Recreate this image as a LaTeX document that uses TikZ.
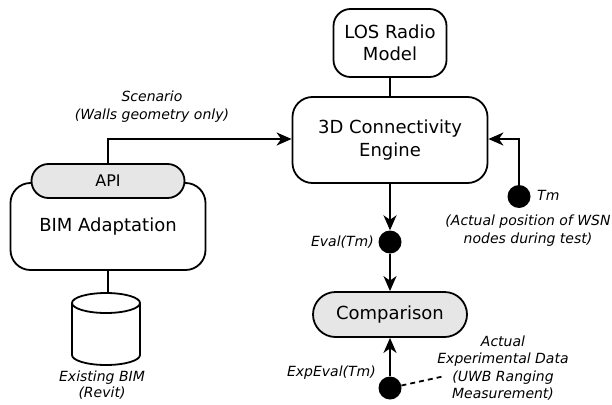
\documentclass[tikz,border=0pt]{standalone}
\usepackage{fontspec}
\setmainfont{DejaVu Sans}
\usetikzlibrary{arrows.meta}
\definecolor{boxgray}{HTML}{E6E6E6}
\begin{document}
\begin{tikzpicture}[x=1pt,y=-1pt,
  box/.style={draw,line width=1.8pt,align=center,font=\fontsize{18}{22.5}\selectfont,inner sep=0pt},
  dot/.style={circle,fill=black,minimum size=23pt,inner sep=0pt},
  lbl/.style={font=\fontsize{14}{18}\itshape\selectfont,align=center,inner sep=0pt},
  arr/.style={line width=1.8pt,-{Stealth[length=15pt,width=13pt,inset=4.5pt]}},
  ln/.style={line width=1.8pt}]
\useasboundingbox (0,0) rectangle (612,404);
\node[box,rounded corners=17pt,minimum width=113pt,minimum height=68pt] (los) at (390,43) {LOS Radio\\Model};
\node[box,rounded corners=20pt,minimum width=195pt,minimum height=86pt] (engine) at (390,140) {3D Connectivity\\Engine};
\node[box,rounded corners=20pt,minimum width=195pt,minimum height=87pt] (bim) at (108,226.5) {\raisebox{-4pt}{BIM Adaptation}};
\node[box,fill=boxgray,rounded corners=17pt,minimum width=153pt,minimum height=34pt,font=\fontsize{16}{18}\selectfont] (api) at (108,181) {API};
\node[box,fill=boxgray,rounded corners=22.5pt,minimum width=154pt,minimum height=45pt] (cmp) at (390,314.5) {Comparison};
% cylinder (database)
\coordinate (cyltop) at (106,293);
\draw[ln,fill=white] (72,303) -- (72,355) arc[start angle=180,end angle=0,x radius=34,y radius=10] -- (140,303);
\draw[ln] (106,303) ellipse [x radius=34, y radius=10];
\node[dot] (tm) at (519,196.5) {};
\node[dot] (eval) at (390,242) {};
\node[dot] (exp) at (390,388) {};
\coordinate (dend) at (445,376);
% labels
\node[lbl] (scen) at (152,106.5) {Scenario\\(Walls geometry only)};
\node[lbl,anchor=west] (tml) at (537,195) {Tm};
\node[lbl] (actpos) at (528,231) {(Actual position of WSN\\nodes during test)};
\node[lbl,anchor=east] (evall) at (374,242) {Eval(Tm)};
\node[lbl,anchor=east] (expl) at (376,373) {ExpEval(Tm)};
\node[lbl,font=\fontsize{14}{17.3}\itshape\selectfont] (actexp) at (503,368) {Actual\\Experimental Data\\(UWB Ranging\\Measurement)};
\node[lbl,font=\fontsize{14}{16.5}\itshape\selectfont] (exbim) at (102,385) {Existing BIM\\(Revit)};
% connectors
\draw[ln] (los.south) -- (engine.north);
\draw[arr] (api.north) |- ([yshift=1pt]engine.west);
\draw[arr] (tm.north) |- ([yshift=1pt]engine.east);
\draw[arr] (engine.south) -- (eval.north);
\draw[arr] (eval.south) -- (cmp.north);
\draw[arr] (exp.north) -- (cmp.south);
\draw[ln,dash pattern=on 5pt off 4pt] (exp) -- (dend);
\draw[ln] (bim.south) -- (bim.south |- cyltop);
\end{tikzpicture}
\end{document}
